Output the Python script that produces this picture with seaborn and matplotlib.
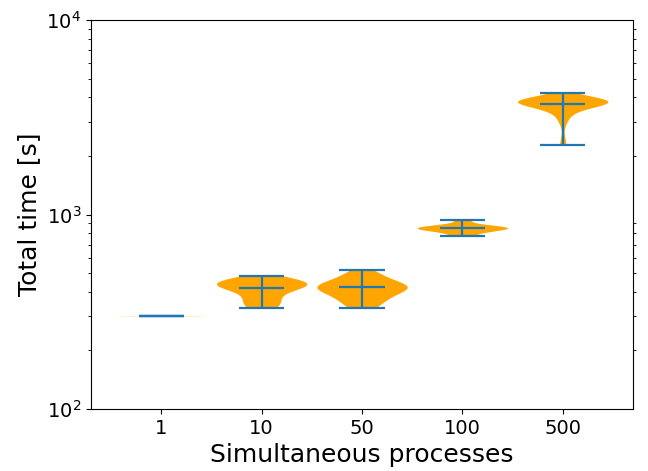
import numpy as np
import pandas as pd
import matplotlib
matplotlib.use("Agg")
import matplotlib.pyplot as plt
import seaborn as sns

categories = ["1", "10", "50", "100", "500"]

times_1 = [299.5, 299.8, 300.0, 300.1, 300.4]
times_10 = [332, 342, 355, 370, 395, 410, 418, 425, 430, 435, 440, 445, 450, 458, 460, 470, 484]
times_50 = [332, 350, 365, 380, 395, 405, 412, 418, 423, 428, 433, 440, 450, 462, 478, 495, 516]
times_100 = [778, 815, 835, 845, 850, 855, 860, 868, 880, 940]
times_500 = [2269, 3050, 3350, 3520, 3600, 3680, 3720, 3750, 3770, 3790, 3800, 3810,
             3820, 3840, 3860, 3880, 3910, 3950, 4020, 4228]

series = [times_1, times_10, times_50, times_100, times_500]

rows = []
for cat, vals in zip(categories, series):
    for v in vals:
        rows.append({"procs": cat, "time": v})
df = pd.DataFrame(rows)

fig = plt.figure(figsize=(6.48, 4.71), dpi=100)
ax = fig.add_axes([91 / 648, 1 - 409 / 471, (633 - 91) / 648, (409 - 20) / 471])

sns.violinplot(data=df, x="procs", y="time", order=categories, color="orange",
               saturation=1, inner=None, cut=0, density_norm="width", width=0.9,
               linewidth=0, ax=ax)

half = 0.225
for i, vals in enumerate(series):
    vmin, vmax, vmean = min(vals), max(vals), float(np.mean(vals))
    ax.vlines(i, vmin, vmax, color="#1f77b4", lw=1.6)
    ax.hlines([vmin, vmax, vmean], i - half, i + half, color="#1f77b4", lw=1.6)

ax.set_yscale("log")
ax.set_ylim(100, 10000)
ax.set_xlim(-0.7, 4.7)
ax.set_xticks(range(len(categories)))
ax.set_xticklabels(categories)
ax.tick_params(axis="both", which="major", labelsize=14)
ax.tick_params(axis="y", which="minor", right=True)
ax.set_xlabel("Simultaneous processes", fontsize=18)
ax.set_ylabel("Total time [s]", fontsize=18)

fig.savefig("out.png", dpi=100)
